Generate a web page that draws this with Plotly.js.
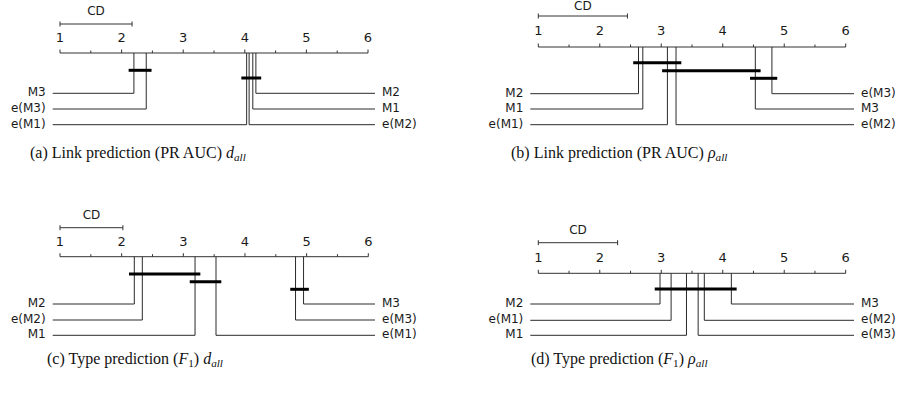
<!DOCTYPE html>
<html><head><meta charset="utf-8">
<script src="https://cdn.plot.ly/plotly-3.0.1.min.js"></script>
<style>html,body{margin:0;padding:0;background:#fff}</style>
</head><body><div id="chart" style="width:899px;height:394px"></div>
<script>
// ---------- data ----------
const tickValues = [1, 2, 3, 4, 5, 6];
const tickLabels = ['1', '2', '3', '4', '5', '6'];
const minorTickValues = [1.5, 2.5, 3.5, 4.5, 5.5];

// (a) Link prediction (PR AUC) d_all
const namesA = ['M3', 'e(M3)', 'e(M1)', 'e(M2)', 'M1', 'M2'];
const ranksA = [2.20, 2.40, 4.03, 4.07, 4.13, 4.18];
const cliquesA = [['M3', 'e(M3)'], ['e(M1)', 'e(M2)', 'M1', 'M2']];
const cdA = 1.17;

// (b) Link prediction (PR AUC) rho_all
const namesB = ['M2', 'M1', 'e(M1)', 'e(M2)', 'M3', 'e(M3)'];
const ranksB = [2.63, 2.70, 3.10, 3.24, 4.53, 4.80];
const cliquesB = [['M2', 'M1', 'e(M1)', 'e(M2)'], ['e(M1)', 'e(M2)', 'M3'], ['M3', 'e(M3)']];
const cdB = 1.45;

// (c) Type prediction (F1) d_all
const namesC = ['M2', 'e(M2)', 'M1', 'e(M1)', 'e(M3)', 'M3'];
const ranksC = [2.205, 2.335, 3.19, 3.53, 4.82, 4.95];
const cliquesC = [['M2', 'e(M2)', 'M1'], ['M1', 'e(M1)'], ['e(M3)', 'M3']];
const cdC = 1.02;

// (d) Type prediction (F1) rho_all
const namesD = ['M2', 'e(M1)', 'M1', 'e(M3)', 'e(M2)', 'M3'];
const ranksD = [2.98, 3.16, 3.41, 3.60, 3.70, 4.14];
const cliquesD = [['M2', 'e(M1)', 'M1', 'e(M3)', 'e(M2)', 'M3']];
const cdD = 1.29;

const captions = [
  '(a) Link prediction (PR AUC) <i>d</i><sub><i>all</i></sub>',
  '(b) Link prediction (PR AUC) <i>ρ</i><sub><i>all</i></sub>',
  '(c) Type prediction (<i>F</i><sub>1</sub>) <i>d</i><sub><i>all</i></sub>',
  '(d) Type prediction (<i>F</i><sub>1</sub>) <i>ρ</i><sub><i>all</i></sub>'
];

// ---------- layout geometry (pixels) ----------
const W = 899, H = 394;
const panels = [
  {names: namesA, ranks: ranksA, cliques: cliquesA, cd: cdA,
   box: [0, 449, 0, 197], left: 60, right: 368, axisY: 53, tickY: 39, cdY: 24, cdLabY: 12,
   rows: [93.3, 109, 124.7], lineL: 52.7, lineR: 375, bars: [70.3, 78]},
  {names: namesB, ranks: ranksB, cliques: cliquesB, cd: cdB,
   box: [449, 899, 0, 197], left: 538.3, right: 845.7, axisY: 47, tickY: 32, cdY: 16, cdLabY: 6.5,
   rows: [93.7, 109, 124.7], lineL: 530.3, lineR: 854, bars: [62.7, 70.7, 78.3]},
  {names: namesC, ranks: ranksC, cliques: cliquesC, cd: cdC,
   box: [0, 449, 197, 394], left: 60, right: 368.3, axisY: 256.7, tickY: 242.7, cdY: 227.7, cdLabY: 215.7,
   rows: [304, 320, 335.3], lineL: 52.7, lineR: 375, bars: [274, 281.7, 289.3]},
  {names: namesD, ranks: ranksD, cliques: cliquesD, cd: cdD,
   box: [449, 899, 197, 394], left: 538.3, right: 845.7, axisY: 273.3, tickY: 258.3, cdY: 242.7, cdLabY: 230.7,
   rows: [304, 320.3, 335.3], lineL: 530.3, lineR: 854, bars: [289]}
];
const captionPos = [[138, 153], [619, 153], [135, 359], [619, 359]];

const lineColor = '#2a2a2a';
const textColor = '#1a1a1a';
const labelFont = {family: 'DejaVu Sans', size: 12, color: textColor};
const traces = [];
const layout = {
  width: W, height: H, margin: {l: 0, r: 0, t: 0, b: 0},
  paper_bgcolor: '#fff', plot_bgcolor: '#fff', showlegend: false,
  annotations: []
};

panels.forEach((p, i) => {
  const k = i === 0 ? '' : String(i + 1);
  const xa = 'x' + k, ya = 'y' + k;
  const unit = (p.right - p.left) / 5;
  const toRank = px => 1 + (px - p.left) / unit;
  const [bx0, bx1, by0, by1] = p.box;
  layout['xaxis' + k] = {domain: [bx0 / W, bx1 / W], range: [toRank(bx0), toRank(bx1)],
    visible: false, fixedrange: true, anchor: ya};
  layout['yaxis' + k] = {domain: [1 - by1 / H, 1 - by0 / H], range: [by1, by0],
    visible: false, fixedrange: true, anchor: xa};
  const base = {xaxis: xa, yaxis: ya, hoverinfo: 'skip', cliponaxis: false};

  // axis line + ticks
  const ax = [1, 6, null], ay = [p.axisY, p.axisY, null];
  tickValues.forEach(t => { ax.push(t, t, null); ay.push(p.axisY, p.axisY - 3.5, null); });
  minorTickValues.forEach(t => { ax.push(t, t, null); ay.push(p.axisY, p.axisY - 2.5, null); });
  traces.push({...base, type: 'scatter', mode: 'lines', x: ax, y: ay,
    line: {color: '#333', width: 1}});
  traces.push({...base, type: 'scatter', mode: 'text', x: tickValues,
    y: tickValues.map(() => p.tickY), text: tickLabels, textposition: 'middle center',
    textfont: {family: 'DejaVu Sans', size: 13, color: textColor}});

  // CD bar
  traces.push({...base, type: 'scatter', mode: 'lines',
    x: [1, 1 + p.cd, null, 1, 1, null, 1 + p.cd, 1 + p.cd],
    y: [p.cdY, p.cdY, null, p.cdY - 2.5, p.cdY + 2.5, null, p.cdY - 2.5, p.cdY + 2.5],
    line: {color: '#333', width: 1}});
  traces.push({...base, type: 'scatter', mode: 'text', x: [1 + p.cd / 2], y: [p.cdLabY],
    text: ['CD'], textposition: 'middle center', textfont: labelFont});

  // method connectors
  const n = p.names.length, half = n / 2;
  const lx = [], ly = [];
  const leftX = toRank(p.lineL), rightX = toRank(p.lineR);
  const leftNames = [], leftY = [], rightNames = [], rightY = [];
  p.names.forEach((nm, j) => {
    const r = p.ranks[j];
    let row, endX;
    if (j < half) { row = p.rows[j]; endX = leftX; leftNames.push(nm); leftY.push(row); }
    else { row = p.rows[n - 1 - j]; endX = rightX; rightNames.push(nm); rightY.push(row); }
    lx.push(r, r, endX, null); ly.push(p.axisY, row, row, null);
  });
  traces.push({...base, type: 'scatter', mode: 'lines', x: lx, y: ly,
    line: {color: lineColor, width: 1}});
  traces.push({...base, type: 'scatter', mode: 'text', x: leftNames.map(() => toRank(p.lineL - 7)),
    y: leftY, text: leftNames, textposition: 'middle left', textfont: labelFont});
  traces.push({...base, type: 'scatter', mode: 'text', x: rightNames.map(() => toRank(p.lineR + 7)),
    y: rightY, text: rightNames, textposition: 'middle right', textfont: labelFont});

  // cliques
  const pad = 5.3 / unit;
  const cx = [], cy = [];
  p.cliques.forEach((cl, c) => {
    const rs = cl.map(nm => p.ranks[p.names.indexOf(nm)]);
    cx.push(Math.min(...rs) - pad, Math.max(...rs) + pad, null);
    cy.push(p.bars[c], p.bars[c], null);
  });
  traces.push({...base, type: 'scatter', mode: 'lines', x: cx, y: cy,
    line: {color: '#000', width: 3}});

  layout.annotations.push({xref: 'paper', yref: 'paper', x: captionPos[i][0] / W,
    y: 1 - captionPos[i][1] / H, xanchor: 'center', yanchor: 'middle', showarrow: false,
    text: captions[i], font: {family: 'Liberation Serif', size: 16, color: '#111'}});
});

Plotly.newPlot('chart', traces, layout, {staticPlot: true, displayModeBar: false});
</script>
</body></html>
